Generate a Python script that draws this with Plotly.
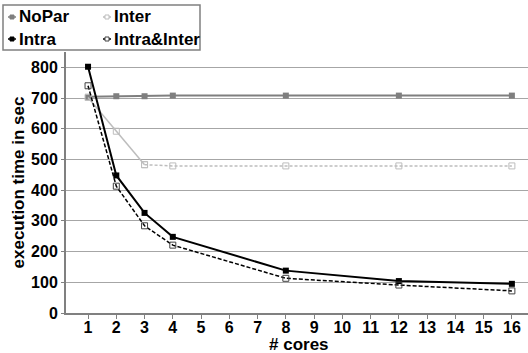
import plotly.graph_objects as go

cores = [1, 2, 3, 4, 8, 12, 16]
nopar = [704, 706, 706, 708, 708, 708, 708]
inter = [702, 592, 483, 479, 479, 479, 479]
intra = [802, 448, 326, 248, 138, 104, 95]
intra_inter = [740, 413, 284, 221, 113, 91, 72]

series_names = ["NoPar", "Inter", "Intra", "Intra&Inter"]
x_ticks = list(range(1, 17))
y_ticks = [0, 100, 200, 300, 400, 500, 600, 700, 800]

FONT = "Liberation Sans, Arial, sans-serif"
W, H = 528, 353
ML, MR, MT, MB = 66, 0, 52, 40
PW, PH = W - ML - MR, H - MT - MB

def px(x):
    return (x - ML) / PW

def py(y):
    return (H - MB - y) / PH

styles = {
    "NoPar": dict(color="#7f7f7f", width=2, dash="solid", symbol="square", mcolor="#7f7f7f"),
    "Inter": dict(color="#bdbdbd", width=1.5, dash="solid", symbol="square-open", mcolor="#bdbdbd"),
    "Intra": dict(color="#000000", width=2, dash="solid", symbol="square", mcolor="#000000"),
    "Intra&Inter": dict(color="#000000", width=1.5, dash="4px,2px", symbol="square-open", mcolor="#404040"),
}

fig = go.Figure()

def add(name, xs, ys, dash=None):
    s = styles[name]
    fig.add_trace(go.Scatter(
        x=xs, y=ys, name=name, mode="lines+markers", showlegend=False,
        line=dict(color=s["color"], width=s["width"], dash=dash or s["dash"]),
        marker=dict(symbol=s["symbol"], size=6, color=s["mcolor"])))

add("NoPar", cores, nopar)
add("Inter", cores[:3], inter[:3])
add("Inter", cores[2:], inter[2:], dash="3px,2px")
add("Intra", cores, intra)
add("Intra&Inter", cores, intra_inter)

# custom legend (box + small symbols + bold labels)
shapes = [dict(type="rect", xref="paper", yref="paper",
               x0=px(3), x1=px(200), y0=py(5), y1=py(50),
               line=dict(color="#808080", width=1.5), fillcolor="white", layer="above")]
annotations = []
legend_pos = {"NoPar": (8, 17), "Inter": (103, 17), "Intra": (8, 39), "Intra&Inter": (103, 39)}
for name in series_names:
    s = styles[name]
    lx, ly = legend_pos[name]
    shapes.append(dict(type="line", xref="paper", yref="paper",
                       x0=px(lx), x1=px(lx + 8), y0=py(ly), y1=py(ly),
                       line=dict(color=s["color"], width=1.5), layer="above"))
    filled = s["symbol"] == "square"
    shapes.append(dict(type="rect", xref="paper", yref="paper",
                       x0=px(lx + 2), x1=px(lx + 6), y0=py(ly - 2), y1=py(ly + 2),
                       line=dict(color=s["mcolor"], width=1),
                       fillcolor=s["mcolor"] if filled else "white", layer="above"))
    annotations.append(dict(xref="paper", yref="paper", x=px(lx + 9), y=py(ly),
                            xanchor="left", yanchor="middle", showarrow=False,
                            text=f"<b>{name}</b>",
                            font=dict(family=FONT, size=17, color="black")))

# x-axis title as annotation (centered under the plot)
annotations.append(dict(xref="paper", yref="paper", x=px(299), y=py(344),
                        xanchor="center", yanchor="middle", showarrow=False,
                        text="<b># cores</b>",
                        font=dict(family=FONT, size=17, color="black")))

fig.update_layout(
    width=W, height=H,
    margin=dict(l=ML, r=MR, t=MT, b=MB, autoexpand=False),
    paper_bgcolor="white", plot_bgcolor="white",
    font=dict(family=FONT, size=16, color="black"),
    showlegend=False,
    shapes=shapes, annotations=annotations,
    xaxis=dict(
        range=[0.22, 16.57], tickmode="array", tickvals=x_ticks,
        ticktext=[f"<b>{v}</b>" for v in x_ticks],
        showgrid=False, zeroline=False, automargin=False,
        showline=True, linecolor="#808080", linewidth=2,
        ticks="outside", ticklen=4, tickcolor="#808080",
        ticklabelstandoff=-5,
        tickfont=dict(size=16),
    ),
    yaxis=dict(
        range=[0, 850], tickmode="array", tickvals=y_ticks,
        ticktext=[f"<b>{v}</b>" for v in y_ticks],
        showgrid=True, gridcolor="#a6a6a6", gridwidth=1,
        zeroline=False, automargin=False,
        showline=True, linecolor="#808080", linewidth=2,
        ticks="outside", ticklen=3, tickcolor="#808080",
        title=dict(text="<b>execution time in sec</b>", font=dict(size=17), standoff=2),
        tickfont=dict(size=16),
    ),
)

fig.write_html("out.html", config={"displayModeBar": False},
               post_script="document.body.style.margin='0';")
